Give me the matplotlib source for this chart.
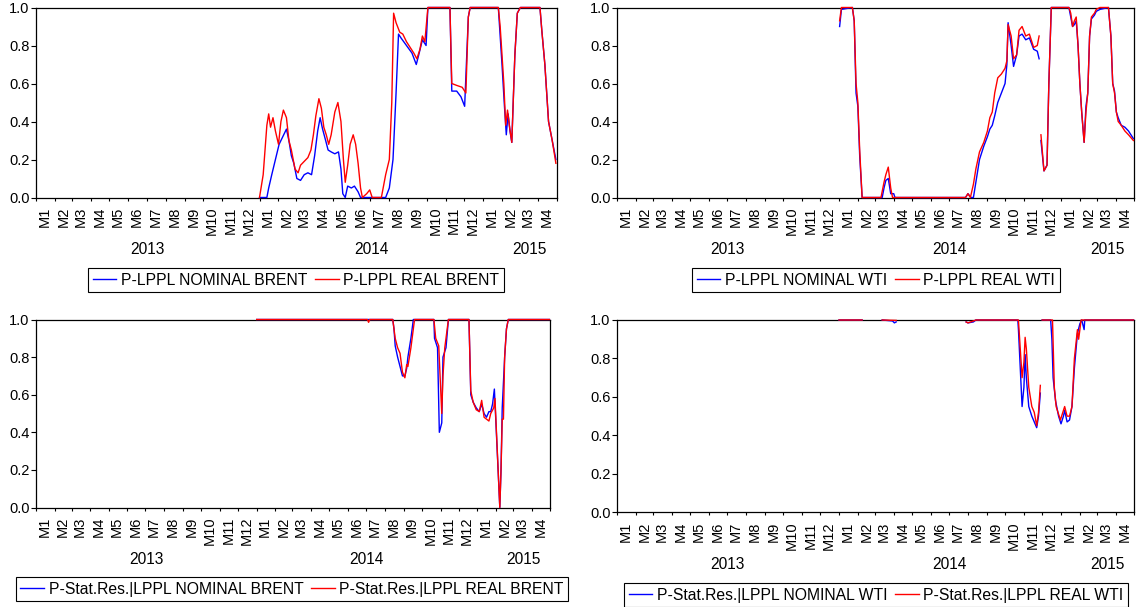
import matplotlib
matplotlib.use("Agg")
import matplotlib.pyplot as plt
import matplotlib.dates as mdates
from matplotlib.ticker import FuncFormatter, NullFormatter, FormatStrFormatter
import numpy as np
import pandas as pd

plt.rcParams['font.family'] = ['Liberation Sans', 'DejaVu Sans']

# ---------------- data (date, probability); None = break in the series ----------------
p1_nominal_brent = [
    ("2014-01-01", 0.0), ("2014-01-13", 0.0), ("2014-01-16", 0.05), ("2014-01-21", 0.12),
    ("2014-01-27", 0.20), ("2014-02-02", 0.28), ("2014-02-08", 0.32), ("2014-02-14", 0.36),
    ("2014-02-18", 0.30), ("2014-02-22", 0.22), ("2014-02-26", 0.18), ("2014-03-03", 0.10),
    ("2014-03-09", 0.09), ("2014-03-15", 0.12), ("2014-03-21", 0.13), ("2014-03-27", 0.12),
    ("2014-04-01", 0.22), ("2014-04-06", 0.35), ("2014-04-10", 0.42), ("2014-04-14", 0.36),
    ("2014-04-19", 0.30), ("2014-04-23", 0.25), ("2014-04-28", 0.24), ("2014-05-04", 0.23),
    ("2014-05-10", 0.24), ("2014-05-14", 0.15), ("2014-05-17", 0.02), ("2014-05-21", 0.0),
    ("2014-05-25", 0.06), ("2014-05-31", 0.05), ("2014-06-05", 0.06), ("2014-06-11", 0.03),
    ("2014-06-15", 0.0), ("2014-07-26", 0.0), ("2014-08-01", 0.05), ("2014-08-07", 0.20),
    ("2014-08-12", 0.55), ("2014-08-16", 0.86), ("2014-08-20", 0.84), ("2014-08-29", 0.80),
    ("2014-09-07", 0.76), ("2014-09-14", 0.70), ("2014-09-18", 0.75), ("2014-09-24", 0.83),
    ("2014-09-30", 0.80), ("2014-10-03", 1.0), ("2014-11-08", 1.0), ("2014-11-11", 0.56),
    ("2014-11-19", 0.56), ("2014-11-26", 0.53), ("2014-12-02", 0.48), ("2014-12-08", 0.95),
    ("2014-12-11", 1.0), ("2015-01-26", 1.0), ("2015-02-01", 0.70), ("2015-02-05", 0.48),
    ("2015-02-08", 0.33), ("2015-02-11", 0.44), ("2015-02-14", 0.35), ("2015-02-17", 0.29),
    ("2015-02-22", 0.75), ("2015-02-26", 0.97), ("2015-03-03", 1.0), ("2015-04-04", 1.0),
    ("2015-04-07", 0.88), ("2015-04-12", 0.70), ("2015-04-18", 0.40), ("2015-04-24", 0.30),
    ("2015-04-30", 0.20),
]
p1_real_brent = [
    ("2014-01-01", 0.0), ("2014-01-07", 0.12), ("2014-01-13", 0.38), ("2014-01-16", 0.44),
    ("2014-01-19", 0.37), ("2014-01-23", 0.42), ("2014-01-27", 0.35), ("2014-02-01", 0.28),
    ("2014-02-05", 0.40), ("2014-02-09", 0.46), ("2014-02-14", 0.42), ("2014-02-18", 0.30),
    ("2014-02-22", 0.25), ("2014-02-28", 0.15), ("2014-03-05", 0.13), ("2014-03-09", 0.17),
    ("2014-03-15", 0.19), ("2014-03-21", 0.21), ("2014-03-26", 0.25), ("2014-03-30", 0.33),
    ("2014-04-03", 0.43), ("2014-04-08", 0.52), ("2014-04-12", 0.47), ("2014-04-16", 0.37),
    ("2014-04-20", 0.33), ("2014-04-24", 0.28), ("2014-04-28", 0.33), ("2014-05-04", 0.45),
    ("2014-05-09", 0.50), ("2014-05-14", 0.40), ("2014-05-18", 0.20), ("2014-05-21", 0.08),
    ("2014-05-25", 0.17), ("2014-05-29", 0.28), ("2014-06-03", 0.33), ("2014-06-07", 0.28),
    ("2014-06-11", 0.18), ("2014-06-15", 0.05), ("2014-06-18", 0.0), ("2014-06-25", 0.02),
    ("2014-06-30", 0.04), ("2014-07-04", 0.0), ("2014-07-19", 0.0), ("2014-07-26", 0.12),
    ("2014-08-01", 0.20), ("2014-08-05", 0.50), ("2014-08-08", 0.97), ("2014-08-12", 0.92),
    ("2014-08-18", 0.87), ("2014-08-23", 0.86), ("2014-08-29", 0.82), ("2014-09-04", 0.79),
    ("2014-09-10", 0.76), ("2014-09-15", 0.73), ("2014-09-20", 0.78), ("2014-09-24", 0.85),
    ("2014-09-28", 0.82), ("2014-10-03", 1.0), ("2014-11-08", 1.0), ("2014-11-11", 0.60),
    ("2014-11-19", 0.59), ("2014-11-28", 0.58), ("2014-12-04", 0.55), ("2014-12-08", 0.95),
    ("2014-12-11", 1.0), ("2015-01-26", 1.0), ("2015-01-29", 0.90), ("2015-02-04", 0.60),
    ("2015-02-07", 0.38), ("2015-02-10", 0.46), ("2015-02-13", 0.38), ("2015-02-17", 0.29),
    ("2015-02-22", 0.75), ("2015-02-26", 0.97), ("2015-03-03", 1.0), ("2015-04-04", 1.0),
    ("2015-04-07", 0.88), ("2015-04-12", 0.70), ("2015-04-18", 0.40), ("2015-04-24", 0.30),
    ("2015-04-30", 0.18),
]
p2_nominal_wti = [
    ("2014-01-02", 0.90), ("2014-01-05", 0.99), ("2014-01-23", 1.0), ("2014-01-26", 0.93),
    ("2014-01-29", 0.55), ("2014-02-01", 0.48), ("2014-02-04", 0.22), ("2014-02-08", 0.0),
    ("2014-03-13", 0.0), ("2014-03-16", 0.05), ("2014-03-19", 0.09), ("2014-03-23", 0.10),
    ("2014-03-27", 0.02), ("2014-04-01", 0.02), ("2014-04-03", 0.0), ("2014-07-28", 0.0),
    ("2014-08-01", 0.02), ("2014-08-06", 0.0), ("2014-08-10", 0.0), ("2014-08-14", 0.08),
    ("2014-08-20", 0.20), ("2014-08-27", 0.27), ("2014-09-02", 0.32), ("2014-09-06", 0.36),
    ("2014-09-10", 0.38), ("2014-09-14", 0.43), ("2014-09-19", 0.50), ("2014-09-25", 0.55),
    ("2014-10-01", 0.60), ("2014-10-04", 0.70), ("2014-10-06", 0.92), ("2014-10-11", 0.80),
    ("2014-10-15", 0.69), ("2014-10-20", 0.75), ("2014-10-24", 0.85), ("2014-10-29", 0.86),
    ("2014-11-04", 0.83), ("2014-11-10", 0.84), ("2014-11-17", 0.78), ("2014-11-23", 0.77),
    ("2014-11-26", 0.73), ("2014-11-27", None), ("2014-11-29", 0.30), ("2014-12-04", 0.14),
    ("2014-12-09", 0.17), ("2014-12-12", 0.60), ("2014-12-16", 1.0), ("2015-01-14", 1.0),
    ("2015-01-17", 0.95), ("2015-01-20", 0.90), ("2015-01-23", 0.91), ("2015-01-26", 0.93),
    ("2015-01-29", 0.80), ("2015-02-01", 0.60), ("2015-02-04", 0.45), ("2015-02-08", 0.29),
    ("2015-02-11", 0.48), ("2015-02-14", 0.55), ("2015-02-17", 0.85), ("2015-02-20", 0.94),
    ("2015-02-25", 0.96), ("2015-02-28", 0.98), ("2015-03-06", 0.99), ("2015-03-20", 1.0),
    ("2015-03-24", 0.85), ("2015-03-27", 0.60), ("2015-03-30", 0.56), ("2015-04-02", 0.45),
    ("2015-04-05", 0.42), ("2015-04-10", 0.38), ("2015-04-16", 0.37), ("2015-04-22", 0.35),
    ("2015-04-30", 0.31),
]
p2_real_wti = [
    ("2014-01-02", 0.93), ("2014-01-05", 1.0), ("2014-01-23", 1.0), ("2014-01-26", 0.93),
    ("2014-01-29", 0.60), ("2014-02-01", 0.50), ("2014-02-04", 0.25), ("2014-02-08", 0.0),
    ("2014-03-11", 0.0), ("2014-03-16", 0.08), ("2014-03-19", 0.12), ("2014-03-23", 0.16),
    ("2014-03-27", 0.05), ("2014-03-30", 0.0), ("2014-07-28", 0.0), ("2014-08-01", 0.02),
    ("2014-08-05", 0.0), ("2014-08-10", 0.07), ("2014-08-14", 0.15), ("2014-08-20", 0.24),
    ("2014-08-27", 0.29), ("2014-09-02", 0.35), ("2014-09-06", 0.42), ("2014-09-10", 0.45),
    ("2014-09-14", 0.55), ("2014-09-19", 0.63), ("2014-09-25", 0.65), ("2014-10-01", 0.68),
    ("2014-10-04", 0.72), ("2014-10-06", 0.91), ("2014-10-11", 0.85), ("2014-10-15", 0.73),
    ("2014-10-20", 0.75), ("2014-10-24", 0.88), ("2014-10-29", 0.90), ("2014-11-04", 0.85),
    ("2014-11-10", 0.86), ("2014-11-17", 0.79), ("2014-11-23", 0.80), ("2014-11-26", 0.85),
    ("2014-11-27", None), ("2014-11-29", 0.33), ("2014-12-04", 0.14), ("2014-12-09", 0.17),
    ("2014-12-12", 0.60), ("2014-12-16", 1.0), ("2015-01-14", 1.0), ("2015-01-17", 0.97),
    ("2015-01-20", 0.90), ("2015-01-23", 0.93), ("2015-01-26", 0.95), ("2015-01-29", 0.80),
    ("2015-02-01", 0.60), ("2015-02-04", 0.45), ("2015-02-08", 0.29), ("2015-02-11", 0.45),
    ("2015-02-14", 0.55), ("2015-02-17", 0.85), ("2015-02-20", 0.95), ("2015-02-25", 0.97),
    ("2015-02-28", 0.99), ("2015-03-06", 1.0), ("2015-03-20", 1.0), ("2015-03-24", 0.85),
    ("2015-03-27", 0.60), ("2015-03-30", 0.55), ("2015-04-02", 0.45), ("2015-04-05", 0.40),
    ("2015-04-10", 0.38), ("2015-04-16", 0.35), ("2015-04-22", 0.33), ("2015-04-30", 0.30),
]
p3_nominal_brent = [
    ("2014-01-01", 1.0), ("2014-08-14", 1.0), ("2014-08-16", 0.95), ("2014-08-18", 0.86),
    ("2014-08-22", 0.80), ("2014-08-26", 0.75), ("2014-08-30", 0.70), ("2014-09-03", 0.70),
    ("2014-09-06", 0.74), ("2014-09-08", 0.80), ("2014-09-13", 0.90), ("2014-09-17", 1.0),
    ("2014-10-21", 1.0), ("2014-10-22", 0.90), ("2014-10-27", 0.85), ("2014-10-30", 0.40),
    ("2014-11-03", 0.45), ("2014-11-05", 0.80), ("2014-11-10", 0.85), ("2014-11-14", 1.0),
    ("2014-12-18", 1.0), ("2014-12-21", 0.60), ("2014-12-25", 0.56), ("2014-12-30", 0.53),
    ("2015-01-04", 0.51), ("2015-01-08", 0.55), ("2015-01-12", 0.50), ("2015-01-16", 0.48),
    ("2015-01-20", 0.51), ("2015-01-23", 0.51), ("2015-01-26", 0.55), ("2015-01-29", 0.63),
    ("2015-02-07", 0.0), ("2015-02-09", 0.20), ("2015-02-11", 0.53), ("2015-02-15", 0.80),
    ("2015-02-18", 0.95), ("2015-02-21", 1.0), ("2015-04-30", 1.0),
]
p3_real_brent = [
    ("2014-01-01", 1.0), ("2014-07-03", 1.0), ("2014-07-05", 0.985), ("2014-07-07", 1.0),
    ("2014-08-14", 1.0), ("2014-08-18", 0.90), ("2014-08-22", 0.85), ("2014-08-26", 0.82),
    ("2014-08-30", 0.72), ("2014-09-03", 0.69), ("2014-09-06", 0.76), ("2014-09-08", 0.75),
    ("2014-09-13", 0.85), ("2014-09-19", 1.0), ("2014-10-21", 1.0), ("2014-10-24", 0.90),
    ("2014-10-29", 0.86), ("2014-11-03", 0.50), ("2014-11-05", 0.70), ("2014-11-08", 0.85),
    ("2014-11-14", 1.0), ("2014-12-18", 1.0), ("2014-12-21", 0.62), ("2014-12-25", 0.56),
    ("2014-12-30", 0.52), ("2015-01-04", 0.51), ("2015-01-08", 0.57), ("2015-01-12", 0.48),
    ("2015-01-16", 0.47), ("2015-01-20", 0.46), ("2015-01-23", 0.50), ("2015-01-28", 0.53),
    ("2015-01-30", 0.58), ("2015-02-07", 0.0), ("2015-02-09", 0.20), ("2015-02-11", 0.47),
    ("2015-02-13", 0.47), ("2015-02-15", 0.80), ("2015-02-18", 0.95), ("2015-02-21", 1.0),
    ("2015-04-30", 1.0),
]
p4_nominal_wti = [
    ("2014-01-01", 1.0), ("2014-02-08", 1.0), ("2014-02-09", None), ("2014-03-13", 1.0),
    ("2014-03-30", 0.995), ("2014-04-02", 0.985), ("2014-04-05", 0.99), ("2014-04-06", None),
    ("2014-07-29", 0.99), ("2014-08-01", 0.985), ("2014-08-10", 0.99), ("2014-08-14", 1.0),
    ("2014-10-22", 1.0), ("2014-10-23", 0.95), ("2014-10-26", 0.75), ("2014-10-29", 0.55),
    ("2014-11-01", 0.65), ("2014-11-03", 0.82), ("2014-11-05", 0.70), ("2014-11-09", 0.55),
    ("2014-11-14", 0.50), ("2014-11-18", 0.47), ("2014-11-22", 0.44), ("2014-11-25", 0.50),
    ("2014-11-28", 0.62), ("2014-11-29", None), ("2014-12-01", 1.0), ("2014-12-15", 1.0),
    ("2014-12-17", 0.90), ("2014-12-19", 0.70), ("2014-12-23", 0.58), ("2014-12-28", 0.50),
    ("2015-01-01", 0.46), ("2015-01-05", 0.50), ("2015-01-07", 0.53), ("2015-01-11", 0.47),
    ("2015-01-15", 0.48), ("2015-01-19", 0.55), ("2015-01-23", 0.75), ("2015-01-28", 0.93),
    ("2015-02-01", 0.98), ("2015-02-04", 1.0), ("2015-02-08", 0.95), ("2015-02-09", 1.0),
    ("2015-04-30", 1.0),
]
p4_real_wti = [
    ("2014-01-01", 1.0), ("2014-02-08", 1.0), ("2014-02-09", None), ("2014-03-13", 1.0),
    ("2014-04-05", 0.998), ("2014-04-06", None), ("2014-07-29", 0.99), ("2014-08-01", 0.985),
    ("2014-08-10", 0.995), ("2014-08-14", 1.0), ("2014-10-22", 1.0), ("2014-10-23", 1.0),
    ("2014-10-26", 0.85), ("2014-10-29", 0.70), ("2014-11-01", 0.78), ("2014-11-03", 0.91),
    ("2014-11-05", 0.85), ("2014-11-09", 0.65), ("2014-11-14", 0.55), ("2014-11-18", 0.52),
    ("2014-11-22", 0.45), ("2014-11-25", 0.52), ("2014-11-28", 0.66), ("2014-11-29", None),
    ("2014-12-01", 1.0), ("2014-12-18", 1.0), ("2014-12-21", 0.65), ("2014-12-24", 0.55),
    ("2014-12-31", 0.48), ("2015-01-07", 0.55), ("2015-01-11", 0.50), ("2015-01-15", 0.50),
    ("2015-01-19", 0.55), ("2015-01-23", 0.80), ("2015-01-28", 0.95), ("2015-01-30", 0.90),
    ("2015-02-03", 1.0), ("2015-04-30", 1.0),
]

legend_labels = [
    ("P-LPPL NOMINAL BRENT", "P-LPPL REAL BRENT"),
    ("P-LPPL NOMINAL WTI", "P-LPPL REAL WTI"),
    ("P-Stat.Res.|LPPL NOMINAL BRENT", "P-Stat.Res.|LPPL REAL BRENT"),
    ("P-Stat.Res.|LPPL NOMINAL WTI", "P-Stat.Res.|LPPL REAL WTI"),
]
years = ["2013", "2014", "2015"]
y_ticks = [0.0, 0.2, 0.4, 0.6, 0.8, 1.0]

# ---------------- figure ----------------
W, H = 1136, 607
fig = plt.figure(figsize=(W / 100, H / 100), dpi=100)


def frac_box(l, t, r, b):
    return [l / W, 1 - b / H, (r - l) / W, (b - t) / H]


axes_boxes = [
    frac_box(36, 7.5, 556.5, 197.5),
    frac_box(617, 7.5, 1134, 197.5),
    frac_box(36, 319.5, 550, 507.5),
    frac_box(617, 320, 1134, 512.3),
]
legend_anchor = [(296, 268), (876, 268), (292, 577), (876, 583)]
series_pairs = [
    (p1_nominal_brent, p1_real_brent),
    (p2_nominal_wti, p2_real_wti),
    (p3_nominal_brent, p3_real_brent),
    (p4_nominal_wti, p4_real_wti),
]
year_pos = ["2013-07-02", "2014-07-02", "2015-03-18"]


def to_xy(pairs):
    d = pd.to_datetime([p[0] for p in pairs])
    v = np.array([np.nan if p[1] is None else p[1] for p in pairs], dtype=float)
    return d, v


for i in range(4):
    ax = fig.add_axes(axes_boxes[i])
    nom, real = series_pairs[i]
    dn, vn = to_xy(nom)
    dr, vr = to_xy(real)
    l1, = ax.plot(dn, vn, color="#0000ff", lw=1.0, zorder=3, clip_on=False)
    l2, = ax.plot(dr, vr, color="#ff0000", lw=1.0, zorder=4, clip_on=False)

    ax.set_xlim(pd.Timestamp("2013-01-01"), pd.Timestamp("2015-05-01"))
    ax.set_ylim(0, 1)
    ax.set_yticks(y_ticks)
    ax.yaxis.set_major_formatter(FormatStrFormatter("%.1f"))

    ax.xaxis.set_major_locator(mdates.MonthLocator())
    ax.xaxis.set_major_formatter(NullFormatter())
    ax.xaxis.set_minor_locator(mdates.MonthLocator(bymonthday=15))
    ax.xaxis.set_minor_formatter(
        FuncFormatter(lambda x, pos: "M%d" % mdates.num2date(x).month))
    ax.tick_params(axis="x", which="major", length=2.2, width=0.8, direction="out")
    ax.tick_params(axis="x", which="minor", length=0, pad=6.5, labelsize=10.5,
                   labelrotation=90)
    ax.tick_params(axis="y", length=3.6, width=0.8, labelsize=10.5, pad=1)
    for s in ax.spines.values():
        s.set_linewidth(0.9)
        s.set_color("black")

    for yr, pos in zip(years, year_pos):
        ax.annotate(yr, xy=(pd.Timestamp(pos), 0),
                    xycoords=("data", "axes fraction"),
                    xytext=(0, -52), textcoords="offset pixels",
                    ha="center", va="center", fontsize=11.2)

    lx, ly = legend_anchor[i]
    leg = ax.legend([l1, l2], list(legend_labels[i]), loc="upper center",
                    bbox_to_anchor=(lx / W, 1 - ly / H),
                    bbox_transform=fig.transFigure, ncol=2, fontsize=11.3,
                    frameon=True, fancybox=False, shadow=False, framealpha=1,
                    edgecolor="black", borderpad=0.3, handlelength=1.5,
                    handletextpad=0.3, columnspacing=0.5, borderaxespad=0)
    leg.get_frame().set_linewidth(0.8)

fig.savefig("out.png", dpi=100)
